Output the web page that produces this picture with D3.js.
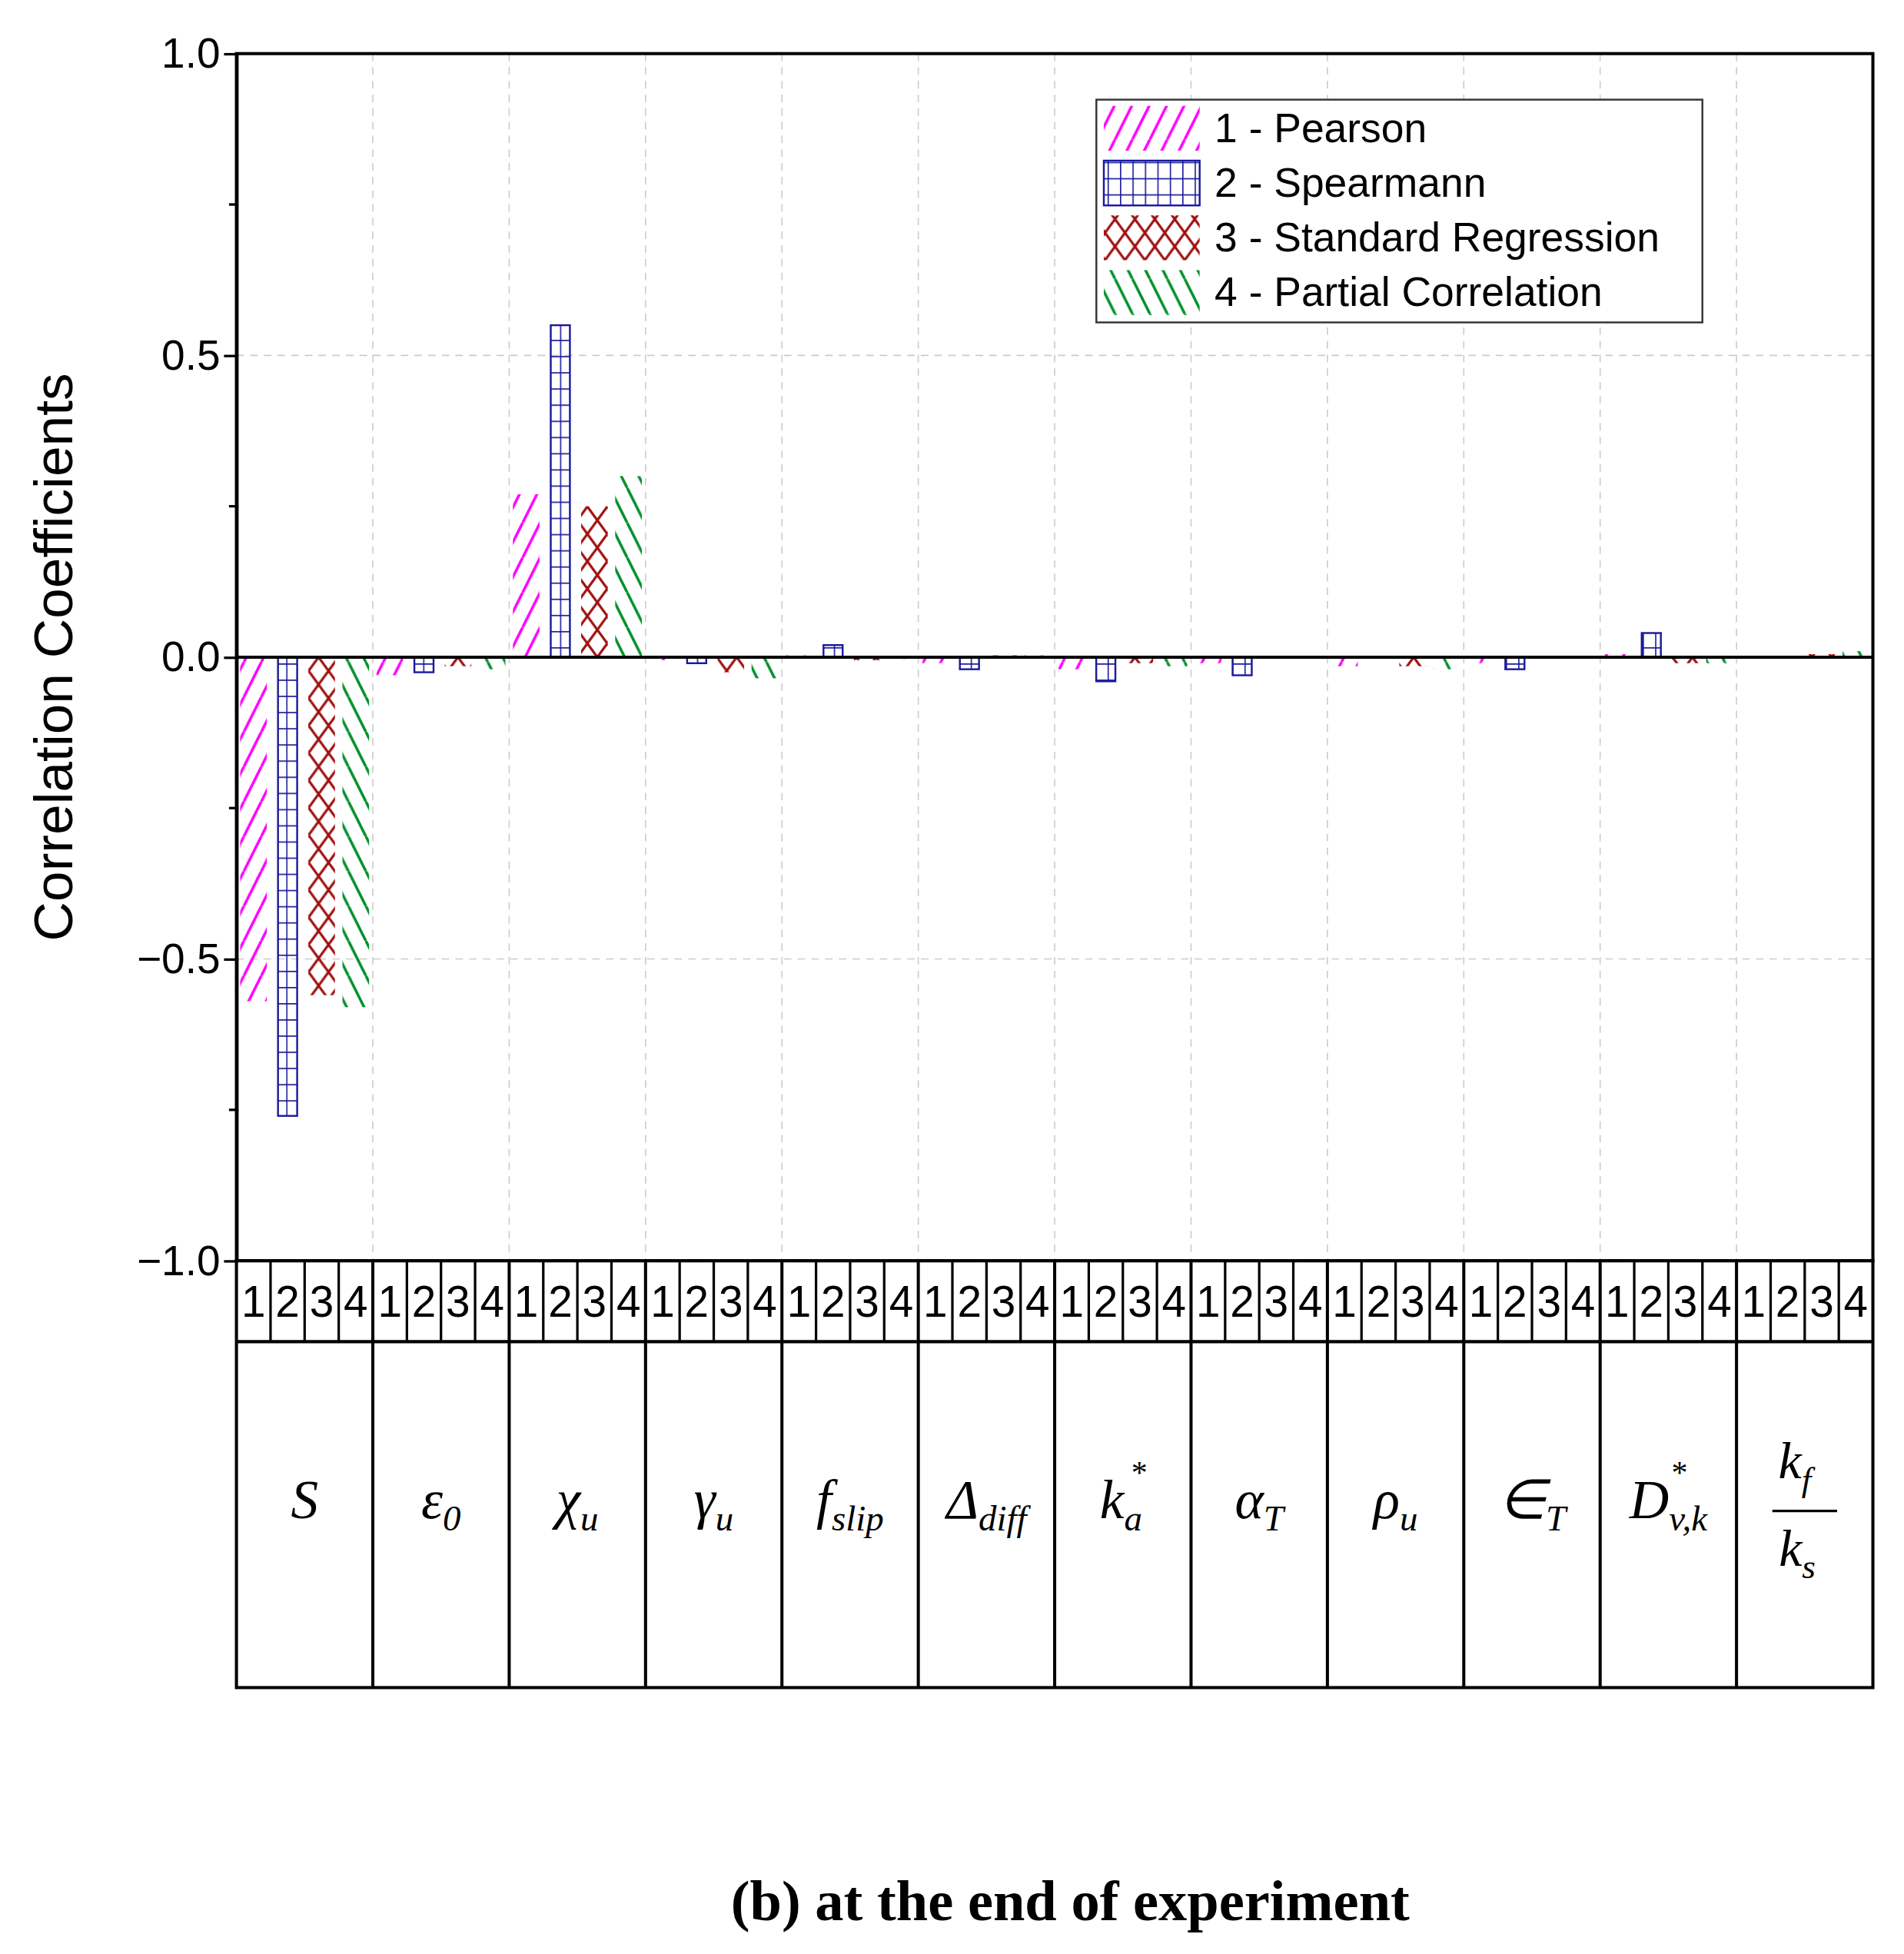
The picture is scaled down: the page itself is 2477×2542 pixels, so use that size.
<!DOCTYPE html>
<html><head><meta charset="utf-8">
<script src="https://cdn.jsdelivr.net/npm/d3@7"></script>
<style>body{margin:0;background:#fff}</style></head>
<body><svg id="c" width="2477" height="2542" viewBox="0 0 1530 1570"></svg>
<script>
const categories = ["S","ε0","χu","γu","fslip","Δdiff","ka*","αT","ρu","∈T","Dvk*","kf/ks"];
const pearson     = [-0.57,-0.03,0.27,-0.005,0.003,-0.01,-0.02,-0.01,-0.015,-0.01,0.005,0];
const spearmann   = [-0.76,-0.025,0.55,-0.01,0.02,-0.02,-0.04,-0.03,0.0,-0.02,0.04,0];
const stdRegr     = [-0.56,-0.015,0.25,-0.025,-0.005,0.003,-0.01,0,-0.015,0,-0.01,0.005];
const partialCorr = [-0.58,-0.02,0.30,-0.035,-0.003,0.003,-0.015,0.002,-0.02,0,-0.01,0.01];
const seriesNames = ["1 - Pearson","2 - Spearmann","3 - Standard Regression","4 - Partial Correlation"];
const yTicks = [-1.0,-0.5,0.0,0.5,1.0];
const series = [pearson,spearmann,stdRegr,partialCorr];

const svg = d3.select("#c");
const L=190,R=1505,T=43,B=1013;
const x = d3.scaleBand().domain(d3.range(categories.length)).range([L,R]);
const xi = d3.scaleBand().domain([0,1,2,3]).range([0,x.bandwidth()]);
const y = d3.scaleLinear().domain([-1,1]).range([B,T]);

const defs = svg.append("defs");
function pat(id, draw){const p=defs.append("pattern").attr("id",id).attr("patternUnits","userSpaceOnUse");draw(p);}
pat("p1",p=>{p.attr("width",14).attr("height",28);
  p.append("path").attr("d","M0,28 L14,0 M-7,14 L0,0 M14,28 L21,14").attr("stroke","#ff00ff").attr("stroke-width",2.2);});
pat("p2",p=>{p.attr("width",10).attr("height",13);
  p.append("path").attr("d","M0,0 H10 M0,0 V13").attr("stroke","#1a1a9c").attr("stroke-width",2);});
pat("p3",p=>{p.attr("width",16).attr("height",22);
  p.append("path").attr("d","M0,0 L16,22 M16,0 L0,22").attr("stroke","#a01010").attr("stroke-width",2);});
pat("p4",p=>{p.attr("width",14).attr("height",28);
  p.append("path").attr("d","M0,0 L14,28 M-7,14 L0,28 M14,0 L21,14").attr("stroke","#00902a").attr("stroke-width",2.2);});
const fills=["url(#p1)","url(#p2)","url(#p3)","url(#p4)"];

const g=svg.append("g");
yTicks.filter(v=>v!==0&&Math.abs(v)!==1).forEach(v=>g.append("line").attr("x1",L).attr("x2",R).attr("y1",y(v)).attr("y2",y(v)).attr("stroke","#ccc").attr("stroke-dasharray","6,5"));
categories.forEach((c,i)=>{if(i>0)g.append("line").attr("x1",x(i)).attr("x2",x(i)).attr("y1",T).attr("y2",B).attr("stroke","#ccc").attr("stroke-dasharray","6,5");});

series.forEach((s,k)=>{
  svg.append("g").selectAll("rect").data(s).join("rect")
   .attr("x",(d,i)=>x(i)+xi(k)+(k===1?6:3)).attr("width",xi.bandwidth()-(k===1?12:6))
   .attr("y",d=>y(Math.max(0,d))).attr("height",d=>Math.abs(y(d)-y(0)))
   .attr("fill",fills[k]).attr("stroke",k===1?"#1a1a9c":"none").attr("stroke-width",1.5);
});
svg.append("line").attr("x1",L).attr("x2",R).attr("y1",y(0)).attr("y2",y(0)).attr("stroke","#000").attr("stroke-width",2.5);

const ax=svg.append("g").attr("transform",`translate(${L},0)`).call(d3.axisLeft(y).tickValues(yTicks).tickFormat(d3.format(".1f")).tickSize(10).tickSizeOuter(0));
ax.selectAll("text").attr("font-family","Arial, Liberation Sans").attr("font-size",34).attr("fill","#000").text(d=>d<0?"−"+Math.abs(d).toFixed(1):d.toFixed(1));
ax.select(".domain").attr("stroke-width",2.5);
ax.selectAll(".tick line").attr("stroke-width",2);
d3.range(-0.75,1,0.5).forEach(v=>svg.append("line").attr("x1",L-6).attr("x2",L).attr("y1",y(v)).attr("y2",y(v)).attr("stroke","#000").attr("stroke-width",2));
svg.append("rect").attr("x",L).attr("y",T).attr("width",R-L).attr("height",B-T).attr("fill","none").attr("stroke","#000").attr("stroke-width",2.5);
svg.append("text").attr("transform",`translate(58,${(T+B)/2}) rotate(-90)`).attr("text-anchor","middle")
  .attr("font-family","Arial, Liberation Sans").attr("font-size",44).text("Correlation Coefficients");

const TB=1078, TE=1356;
svg.append("rect").attr("x",L).attr("y",B).attr("width",R-L).attr("height",TE-B).attr("fill","none").attr("stroke","#000").attr("stroke-width",2.5);
svg.append("line").attr("x1",L).attr("x2",R).attr("y1",TB).attr("y2",TB).attr("stroke","#000").attr("stroke-width",2.5);
categories.forEach((c,i)=>{
  if(i>0) svg.append("line").attr("x1",x(i)).attr("x2",x(i)).attr("y1",B).attr("y2",TE).attr("stroke","#000").attr("stroke-width",2.5);
  [0,1,2,3].forEach(k=>{
    if(k>0) svg.append("line").attr("x1",x(i)+xi(k)).attr("x2",x(i)+xi(k)).attr("y1",B).attr("y2",TB).attr("stroke","#000").attr("stroke-width",2);
    svg.append("text").attr("x",x(i)+xi(k)+xi.bandwidth()/2).attr("y",1058).attr("text-anchor","middle")
      .attr("font-family","Arial, Liberation Sans").attr("font-size",35).text(k+1);
  });
});
const lab=[["S",""],["ε","0"],["χ","u"],["γ","u"],["f","slip"],["Δ","diff"],["k","a","*"],["α","T"],["ρ","u"],["∈","T"],["D","v,k","*"],null];
lab.forEach((l,i)=>{
  const cx=x(i)+x.bandwidth()/2;
  if(!l){
    const t=svg.append("g").attr("font-family","Liberation Serif, Times New Roman, serif").attr("font-style","italic").attr("font-size",42);
    t.append("text").attr("x",cx-8).attr("y",1188).attr("text-anchor","middle").text("k").append("tspan").attr("font-size",28).attr("dy",10).text("f");
    t.append("line").attr("x1",cx-26).attr("x2",cx+26).attr("y1",1214).attr("y2",1214).attr("stroke","#000").attr("stroke-width",2);
    t.append("text").attr("x",cx-6).attr("y",1258).attr("text-anchor","middle").text("k").append("tspan").attr("font-size",28).attr("dy",10).text("s");
    return;
  }
  const t=svg.append("text").attr("x",cx).attr("y",1220).attr("text-anchor","middle")
    .attr("font-family","Liberation Serif, Times New Roman, serif").attr("font-style","italic").attr("font-size",44).text(l[0]);
  if(l[1]) t.append("tspan").attr("font-size",29).attr("dy",10).text(l[1]);
  if(l[2]) t.append("tspan").attr("font-size",26).attr("dx",-(l[1].length*10)).attr("dy",-38).text(l[2]);
});

const lg=svg.append("g");
lg.append("rect").attr("x",881).attr("y",80).attr("width",487).attr("height",179).attr("fill","#fff").attr("stroke","#333").attr("stroke-width",1.5);
seriesNames.forEach((n,k)=>{
  const yy=103+k*44;
  lg.append("rect").attr("x",887).attr("y",yy-18).attr("width",77).attr("height",36).attr("fill",fills[k]).attr("stroke",k===1?"#1a1a9c":"none").attr("stroke-width",1.5);
  lg.append("text").attr("x",976).attr("y",yy+11).attr("font-family","Arial, Liberation Sans").attr("font-size",33).text(n);
});

svg.append("text").attr("x",860).attr("y",1543).attr("text-anchor","middle").attr("font-family","Liberation Serif, Times New Roman, serif")
  .attr("font-weight","bold").attr("font-size",46).text("(b) at the end of experiment");
</script></body></html>
